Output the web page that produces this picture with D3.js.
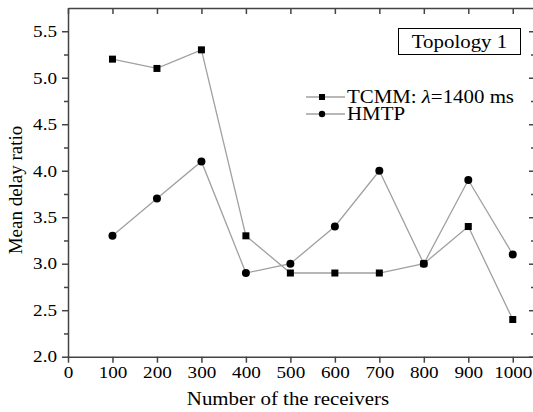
<!DOCTYPE html>
<html>
<head>
<meta charset="utf-8">
<script src="https://cdn.jsdelivr.net/npm/d3@7"></script>
<style>
  body { margin: 0; background: #fff; }
  text { font-family: "Liberation Serif", "DejaVu Serif", serif; fill: #000; }
</style>
</head>
<body>
<svg id="chart" width="533" height="412"></svg>
<script>
const receivers = [100, 200, 300, 400, 500, 600, 700, 800, 900, 1000];
const tcmm = [5.2, 5.1, 5.3, 3.3, 2.9, 2.9, 2.9, 3.0, 3.4, 2.4];
const hmtp = [3.3, 3.7, 4.1, 2.9, 3.0, 3.4, 4.0, 3.0, 3.9, 3.1];
const xTicks = [0, 100, 200, 300, 400, 500, 600, 700, 800, 900, 1000];
const yTicks = [2.0, 2.5, 3.0, 3.5, 4.0, 4.5, 5.0, 5.5];
const yMinor = [2.25, 2.75, 3.25, 3.75, 4.25, 4.75, 5.25];

// the original figure is a bit wider than tall, glyphs look stretched
const stretch = 1.16;

const svg = d3.select("#chart"),
    margin = {top: 8, left: 68};

const x = d3.scaleLinear().domain([0, 1050]).range([margin.left, 535]);
const y = d3.scaleLinear().domain([2.0, 5.75]).range([356.7, margin.top]);

const fmt = d3.format(".1f");
const axisColor = "#444";

function styleLabels(g) {
    g.attr("font-family", "Liberation Serif").attr("font-size", 16.5);
    g.selectAll("text").classed("wide", true);
}

// bottom axis
svg.append("g")
    .attr("transform", "translate(0," + y(2.0) + ")")
    .call(d3.axisBottom(x).tickValues(xTicks).tickFormat(d3.format("d"))
        .tickSize(6).tickSizeOuter(0).tickPadding(4))
    .call(styleLabels);

// top axis, ticks inward
svg.append("g")
    .attr("transform", "translate(0," + y(5.75) + ")")
    .call(d3.axisTop(x).tickValues(xTicks).tickSize(-6).tickSizeOuter(0).tickFormat(""));

// left axis
svg.append("g")
    .attr("transform", "translate(" + x(0) + ",0)")
    .call(d3.axisLeft(y).tickValues(yTicks).tickFormat(fmt)
        .tickSize(6).tickSizeOuter(0).tickPadding(5))
    .call(styleLabels);

svg.append("g")
    .attr("transform", "translate(" + x(0) + ",0)")
    .call(d3.axisLeft(y).tickValues(yMinor).tickFormat("").tickSize(4).tickSizeOuter(0))
    .call(g => g.select(".domain").remove());

// right axis, ticks inward
svg.append("g")
    .attr("transform", "translate(" + x(1050) + ",0)")
    .call(d3.axisRight(y).tickValues(yTicks).tickFormat("").tickSize(-6).tickSizeOuter(0));

svg.append("g")
    .attr("transform", "translate(" + x(1050) + ",0)")
    .call(d3.axisRight(y).tickValues(yMinor).tickFormat("").tickSize(-4).tickSizeOuter(0))
    .call(g => g.select(".domain").remove());

svg.selectAll(".domain, .tick line").attr("stroke", axisColor).attr("stroke-width", 1.5);

const line = d3.line()
    .x((d, i) => x(receivers[i]))
    .y(d => y(d));

[tcmm, hmtp].forEach(series => {
    svg.append("path")
        .datum(series)
        .attr("fill", "none")
        .attr("stroke", "#a0a0a0")
        .attr("stroke-width", 1.3)
        .attr("d", line);
});

svg.append("g").selectAll("rect")
    .data(tcmm)
    .join("rect")
    .attr("x", (d, i) => x(receivers[i]) - 3.5)
    .attr("y", d => y(d) - 3.5)
    .attr("width", 7)
    .attr("height", 7)
    .attr("fill", "#000");

svg.append("g").selectAll("circle")
    .data(hmtp)
    .join("circle")
    .attr("cx", (d, i) => x(receivers[i]))
    .attr("cy", d => y(d))
    .attr("r", 4)
    .attr("fill", "#000");

// Topology box
svg.append("rect")
    .attr("x", 398.5).attr("y", 28.5)
    .attr("width", 122).attr("height", 26)
    .attr("fill", "#fff").attr("stroke", "#000").attr("stroke-width", 1);

svg.append("text")
    .attr("class", "wide")
    .attr("x", 459.5).attr("y", 47.5)
    .attr("text-anchor", "middle")
    .attr("font-size", 18)
    .text("Topology 1");

// legend
const legend = svg.append("g");
const rows = [{name: "TCMM", y: 97}, {name: "HMTP", y: 114}];
rows.forEach((r, i) => {
    legend.append("line")
        .attr("x1", 306).attr("x2", 345)
        .attr("y1", r.y).attr("y2", r.y)
        .attr("stroke", "#a0a0a0").attr("stroke-width", 1.3);
    if (i === 0) {
        legend.append("rect")
            .attr("x", 319).attr("y", r.y - 3)
            .attr("width", 6).attr("height", 6).attr("fill", "#000");
    } else {
        legend.append("circle")
            .attr("cx", 322).attr("cy", r.y).attr("r", 3.2).attr("fill", "#000");
    }
});

const t1 = legend.append("text").attr("class", "wide")
    .attr("x", 347).attr("y", 103).attr("font-size", 18);
t1.append("tspan").text("TCMM: ");
t1.append("tspan").attr("font-style", "italic").text("λ");
t1.append("tspan").text("=1400 ms");

legend.append("text").attr("class", "wide")
    .attr("x", 347).attr("y", 120).attr("font-size", 18).text("HMTP");

// axis titles
svg.append("text")
    .attr("class", "wide")
    .attr("x", 288).attr("y", 405)
    .attr("text-anchor", "middle")
    .attr("font-size", 18)
    .text("Number of the receivers");

svg.append("text")
    .attr("transform", "translate(22,190) rotate(-90)")
    .attr("text-anchor", "middle")
    .attr("font-size", 19)
    .text("Mean delay ratio");

// widen horizontal texts to match the stretched original
svg.selectAll("text.wide").each(function() {
    const len = this.getComputedTextLength();
    d3.select(this)
        .attr("textLength", len * stretch)
        .attr("lengthAdjust", "spacingAndGlyphs");
});
</script>
</body>
</html>
